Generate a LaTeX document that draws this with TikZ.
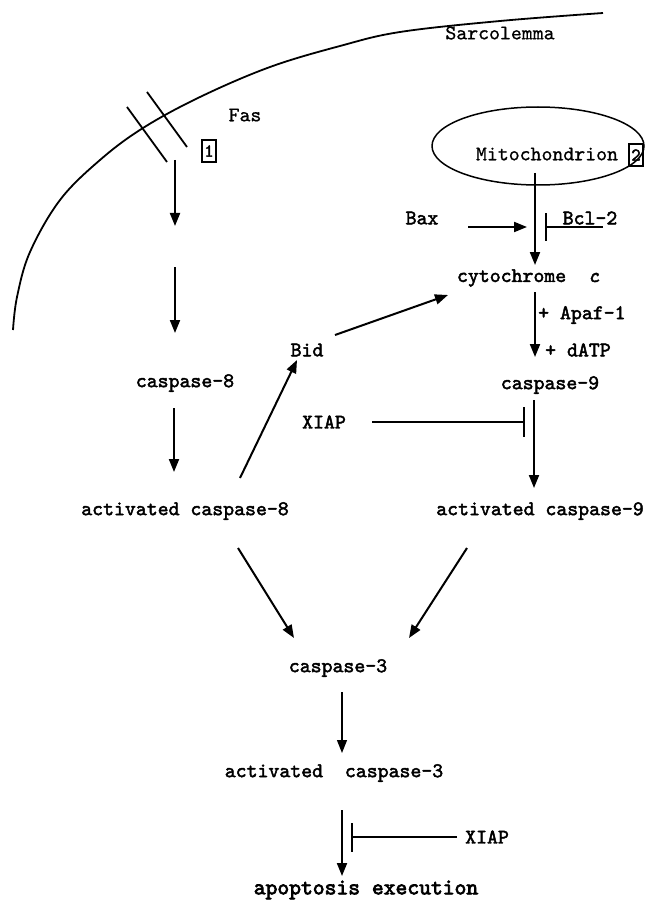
\documentclass[tikz,border=0pt]{standalone}
\usepackage{fontspec}
\newfontfamily\courb[FakeBold=2.2]{lmmono10-regular.otf}
\newfontfamily\courr[FakeBold=0.8]{lmmono10-regular.otf}
\newfontfamily\courx[FakeBold=3.2]{lmmono10-regular.otf}
\newfontfamily\courbi[FakeBold=2.2]{lmmono10-italic.otf}
\usetikzlibrary{arrows.meta,shapes.geometric}
\begin{document}
\begin{tikzpicture}[x=1pt,y=-1pt,
  lbl/.style={font=\fontsize{20.8}{22}\selectfont\courb, inner sep=0pt},
  lblr/.style={font=\fontsize{20.8}{22}\selectfont\courr, inner sep=0pt},
  numbox/.style={draw, line width=1.2pt, font=\fontsize{18}{18}\selectfont\courb, inner sep=0pt, minimum width=14pt, minimum height=22pt},
  arr/.style={line width=2pt, -{Triangle[length=13pt,width=10pt]}},
  thinarr/.style={line width=1.3pt, -{Triangle[length=13pt,width=10pt]}},
  inh/.style={line width=1.6pt, -{Bar[width=#1,line width=2pt]}},
  memb/.style={line width=1.8pt},
]
\path[use as bounding box] (0,0) rectangle (647,901);

% sarcolemma
\draw[memb] plot[smooth, tension=0.6] coordinates {(13,330) (17,297) (30,252) (60,200) (100,160) (143,128) (200,97) (270,67) (340,46) (400,32) (500,21) (603,13)};
\node[lblr] (sarc) at (500,33) {Sarcolemma};

% Fas receptor
\draw[line width=1.8pt] (127,107) -- (167,162);
\draw[line width=1.8pt] (147,92) -- (187,147);
\node[lblr] (fas) at (245,115) {Fas};
\node[numbox] (one) at (209,151) {1};

% mitochondrion
\node[draw, ellipse, line width=1.5pt, minimum width=212pt, minimum height=78pt, inner sep=0pt] (mito) at (538,146) {};
\node[lblr] (mitotext) at (547,154) {Mitochondrion};
\node[numbox] (two) at (636,155) {2};

% labels
\node[lbl] (bax) at (422,218) {Bax};
\node[lbl] (bcl) at (590,218) {Bcl-2};
\node[lbl] (cyt) at (528,278) {cytochrome~~{\courbi c}};
\node[lbl] (bid) at (307,350) {Bid};
\node[lbl, anchor=west] (apaf) at (538,315) {+ Apaf-1};
\node[lbl, anchor=west] (datp) at (545,350) {+ dATP};
\node[lbl] (casp9) at (550,385) {caspase-9};
\node[lbl] (xiapa) at (324,422) {XIAP};
\node[lbl] (casp8) at (185,383) {caspase-8};
\node[lbl] (act8) at (185,511) {activated caspase-8};
\node[lbl] (act9) at (540,511) {activated caspase-9};
\node[lbl] (casp3) at (338,668) {caspase-3};
\node[lbl] (act3) at (334,773) {activated~~caspase-3};
\node[lbl, anchor=west] (xiapb) at (465,837) {XIAP};
\node[font=\fontsize{22.5}{24}\selectfont\courx, inner sep=0pt] (apop) at (366,890) {apoptosis execution};

% connector end points
\coordinate (f1a) at (175,160); \coordinate (f1b) at (175,226);
\coordinate (f2a) at (175,267); \coordinate (f2b) at (175,333);
\coordinate (c8a) at (174,408); \coordinate (c8b) at (174,472);
\coordinate (a8b) at (240,478); \coordinate (bidb) at (297,360);
\coordinate (bidr) at (335,335); \coordinate (cytl) at (448,295);
\coordinate (m1) at (535,173); \coordinate (cytt) at (535,265);
\coordinate (baxr) at (468,227); \coordinate (baxe) at (527,227);
\coordinate (bclr) at (603,227); \coordinate (bclbar) at (545,227);
\coordinate (cytb) at (535,292); \coordinate (c9t) at (535,357);
\coordinate (c9b) at (534,400); \coordinate (a9t) at (534,488);
\coordinate (xiapr) at (372,422); \coordinate (xiapbar) at (525,422);
\coordinate (a8s) at (238,548); \coordinate (c3l) at (294,638);
\coordinate (a9s) at (467,548); \coordinate (c3r) at (409,638);
\coordinate (c3b) at (342,692); \coordinate (a3t) at (342,753);
\coordinate (a3b) at (342,810); \coordinate (apt) at (342,876);
\coordinate (xiapl) at (457,837); \coordinate (xiapbar2) at (351,837);

% connectors
\draw[arr] (f1a) -- (f1b);
\draw[arr] (f2a) -- (f2b);
\draw[arr] (c8a) -- (c8b);
\draw[arr] (a8b) -- (bidb);
\draw[arr] (bidr) -- (cytl);
\draw[arr] (m1) -- (cytt);
\draw[arr] (baxr) -- (baxe);
\draw[inh=27pt] (bclr) -- (bclbar);
\draw[arr] (cytb) -- (c9t);
\draw[arr] (c9b) -- (a9t);
\draw[inh=30pt] (xiapr) -- (xiapbar);
\draw[arr] (a8s) -- (c3l);
\draw[arr] (a9s) -- (c3r);
\draw[thinarr] (c3b) -- (a3t);
\draw[arr] (a3b) -- (apt);
\draw[inh=29pt] (xiapl) -- (xiapbar2);
\end{tikzpicture}
\end{document}
